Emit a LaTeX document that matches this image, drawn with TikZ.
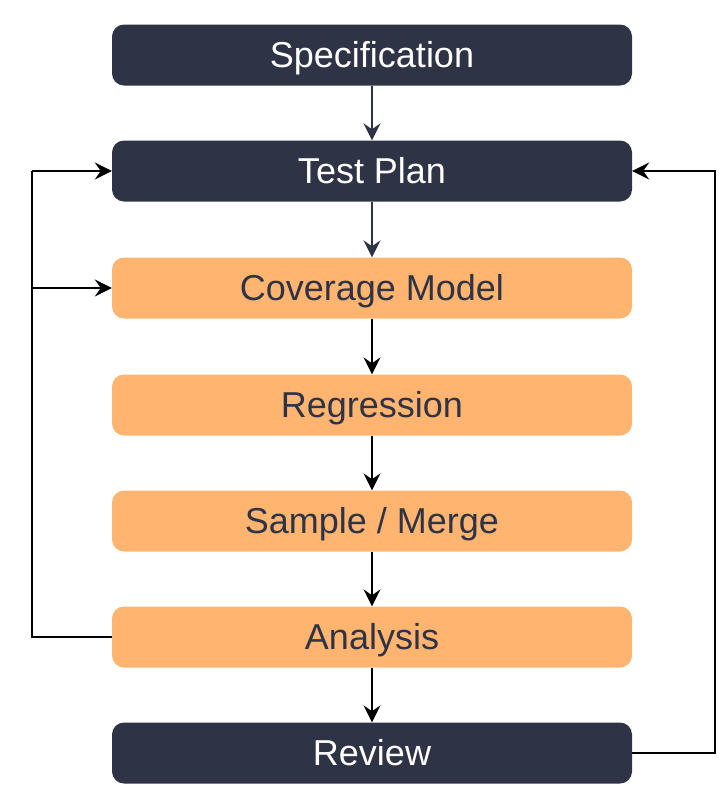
\documentclass[tikz,border=0pt]{standalone}
\usepackage{fontspec}
\setmainfont{Liberation Sans}
\usetikzlibrary{arrows.meta}
\definecolor{navy}{HTML}{2E3346}
\definecolor{orng}{HTML}{FFB570}
\begin{document}
\begin{tikzpicture}[x=1pt,y=-1pt,
  box/.style={rounded corners=12pt, minimum width=520pt, minimum height=61pt, inner sep=0pt, text height=24pt, text depth=0pt, font=\fontsize{36}{40}\selectfont, anchor=center},
  darkbox/.style={box, fill=navy, text=white},
  orangebox/.style={box, fill=orng, text=navy},
  conn/.style={line width=1.8pt, -{Stealth[length=17pt,width=17pt,inset=6pt]}},
  line/.style={line width=1.8pt}]
\useasboundingbox (0,0) rectangle (722,801);
\node[darkbox] (spec) at (372,55) {Specification};
\node[darkbox] (plan) at (372,171) {Test Plan};
\node[orangebox] (cov) at (372,288) {Coverage Model};
\node[orangebox] (reg) at (372,405) {Regression};
\node[orangebox] (samp) at (372,521) {Sample / Merge};
\node[orangebox] (ana) at (372,637) {Analysis};
\node[darkbox] (rev) at (372,753) {Review};
\coordinate (L) at (32,0);
\coordinate (R) at (715,0);
\draw[conn, navy] (spec) -- (plan);
\draw[conn, navy] (plan) -- (cov);
\draw[conn] (cov) -- (reg);
\draw[conn] (reg) -- (samp);
\draw[conn] (samp) -- (ana);
\draw[conn] (ana) -- (rev);
\draw[line] (ana.west) -- (L |- ana.west) -- (L |- plan.west);
\draw[conn] (L |- plan.west) -- (plan.west);
\draw[conn] (L |- cov.west) -- (cov.west);
\draw[conn] (rev.east) -- (R |- rev.east) -- (R |- plan.east) -- (plan.east);
\end{tikzpicture}
\end{document}
